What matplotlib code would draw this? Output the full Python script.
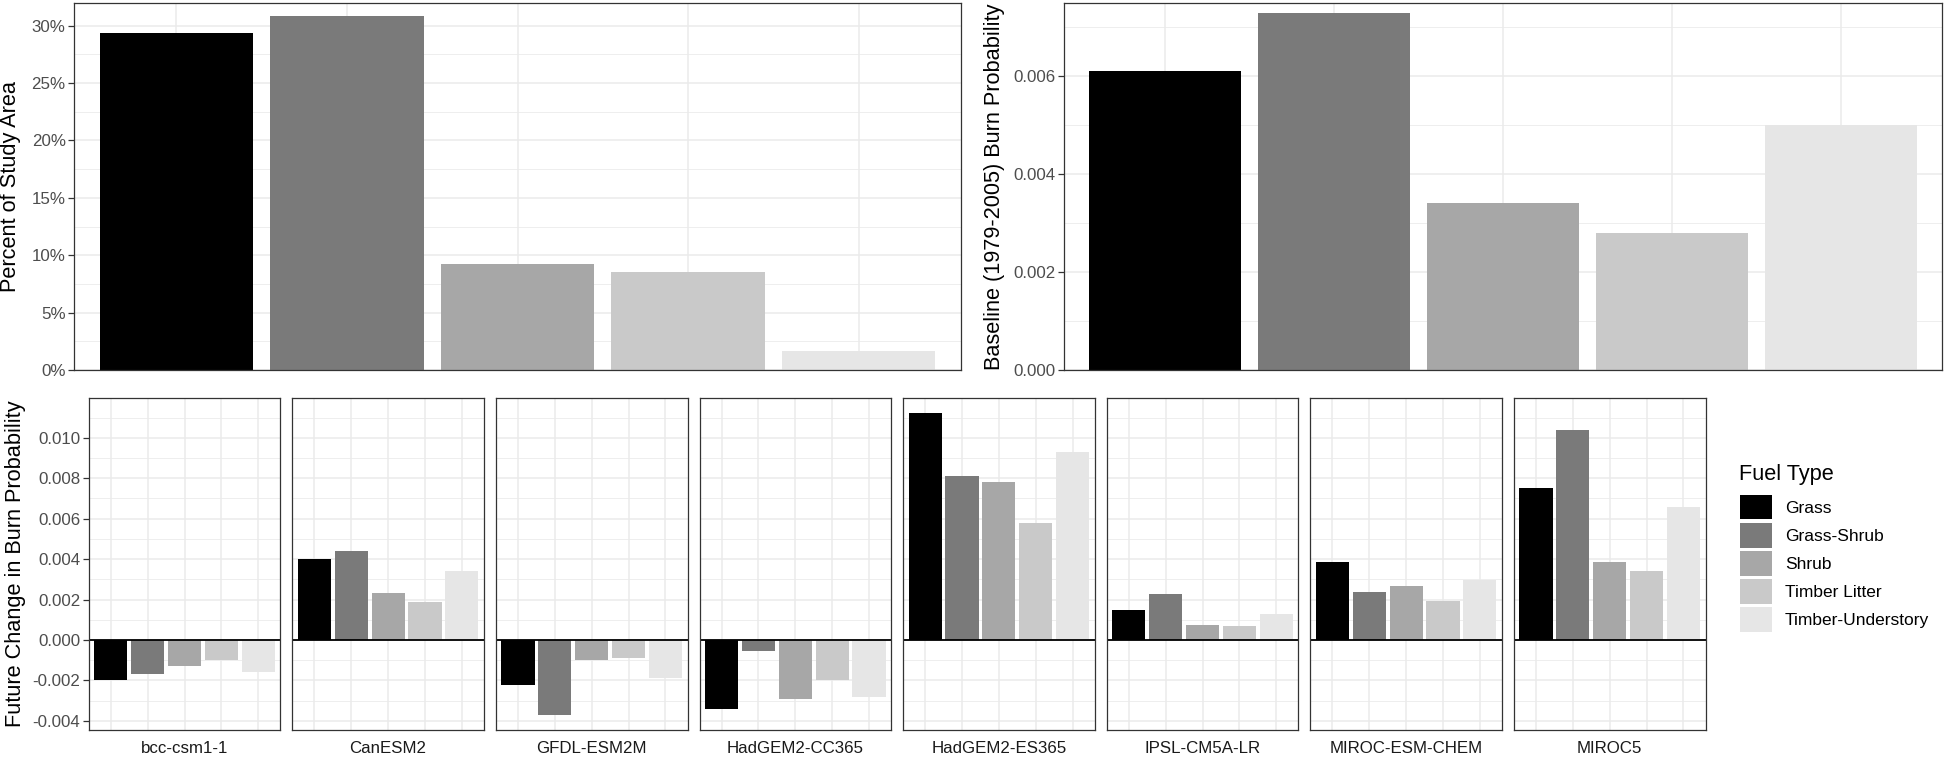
import numpy as np
import matplotlib
matplotlib.use('Agg')
import matplotlib.pyplot as plt
from matplotlib.patches import Patch
from matplotlib.ticker import MultipleLocator, FuncFormatter

# fuel types and grey fills (scale_fill_grey-like)
fuels = ['Grass', 'Grass-Shrub', 'Shrub', 'Timber Litter', 'Timber-Understory']
fills = ['#000000', '#7a7a7a', '#a7a7a7', '#c9c9c9', '#e6e6e6']

# top-left: percent of study area
pct_area = [29.4, 30.8, 9.25, 8.5, 1.65]

# top-right: baseline (1979-2005) burn probability
baseline_bp = [0.0061, 0.00729, 0.0034, 0.0028, 0.005]

# bottom: future change in burn probability, one list per GCM
gcms = ['bcc-csm1-1', 'CanESM2', 'GFDL-ESM2M', 'HadGEM2-CC365',
        'HadGEM2-ES365', 'IPSL-CM5A-LR', 'MIROC-ESM-CHEM', 'MIROC5']
chg_bcc = [-0.0020, -0.0017, -0.0013, -0.0010, -0.0016]
chg_can = [0.0040, 0.0044, 0.0023, 0.0019, 0.0034]
chg_gfdl = [-0.00224, -0.0037, -0.0010, -0.0009, -0.0019]
chg_hadcc = [-0.0034, -0.00054, -0.0029, -0.0020, -0.0028]
chg_hades = [0.0112, 0.0081, 0.0078, 0.0058, 0.0093]
chg_ipsl = [0.00147, 0.00229, 0.00074, 0.00068, 0.0013]
chg_mchem = [0.00384, 0.00237, 0.00265, 0.00195, 0.00299]
chg_miroc5 = [0.0075, 0.0104, 0.00387, 0.0034, 0.0066]
changes = [chg_bcc, chg_can, chg_gfdl, chg_hadcc, chg_hades, chg_ipsl, chg_mchem, chg_miroc5]

W, H = 1944, 758
fig = plt.figure(figsize=(W / 100, H / 100), dpi=100)
plt.rcParams['font.family'] = ['Liberation Sans', 'DejaVu Sans']

tick_fs = 12.2
title_fs = 15.7

def px_axes(x0, y0, x1, y1):
    # pixel box (y from top) -> axes
    return fig.add_axes([x0 / W, 1 - y1 / H, (x1 - x0) / W, (y1 - y0) / H])

def style(ax):
    for s in ax.spines.values():
        s.set_color('#333333')
        s.set_linewidth(0.9)
    ax.set_axisbelow(True)
    ax.grid(which='major', color='#ebebeb', linewidth=1.1)
    ax.grid(which='minor', color='#ebebeb', linewidth=0.6)
    ax.tick_params(axis='y', which='major', length=4, width=0.9, color='#333333',
                   labelsize=tick_fs, labelcolor='#4d4d4d', pad=2)
    ax.tick_params(axis='y', which='minor', length=0)
    ax.tick_params(axis='x', which='both', length=0, labelbottom=False)
    ax.set_xlim(0.4, 5.6)
    ax.set_xticks(range(1, 6))

xpos = np.arange(1, 6)

# top-left panel
ax1 = px_axes(74, 3.3, 961, 370)
ax1.bar(xpos, pct_area, width=0.9, color=fills)
ax1.set_ylim(0, 31.95)
ax1.yaxis.set_major_locator(MultipleLocator(5))
ax1.yaxis.set_minor_locator(MultipleLocator(2.5))
ax1.yaxis.set_major_formatter(FuncFormatter(lambda v, p: f'{v:.0f}%'))
style(ax1)
fig.text(11 / W, 1 - 187 / H, 'Percent of Study Area', rotation=90,
         ha='center', va='center', fontsize=title_fs)

# top-right panel
ax2 = px_axes(1064, 3.3, 1942, 370)
ax2.bar(xpos, baseline_bp, width=0.9, color=fills)
ax2.set_ylim(0, 0.007484)
ax2.yaxis.set_major_locator(MultipleLocator(0.002))
ax2.yaxis.set_minor_locator(MultipleLocator(0.001))
ax2.yaxis.set_major_formatter(FuncFormatter(lambda v, p: f'{v:.3f}'))
style(ax2)
fig.text(994 / W, 1 - 187 / H, 'Baseline (1979-2005) Burn Probability', rotation=90,
         ha='center', va='center', fontsize=title_fs)

# bottom facets
x0, pw, gap = 88.7, 191.6, 12
for i, (gcm, vals) in enumerate(zip(gcms, changes)):
    left = x0 + i * (pw + gap)
    ax = px_axes(left, 398.3, left + pw, 730)
    ax.bar(xpos, vals, width=0.9, color=fills)
    ax.axhline(0, color='black', linewidth=1.3)
    ax.set_ylim(-0.00445, 0.01195)
    ax.yaxis.set_major_locator(MultipleLocator(0.002))
    ax.yaxis.set_minor_locator(MultipleLocator(0.001))
    ax.yaxis.set_major_formatter(FuncFormatter(lambda v, p: f'{v:.3f}'))
    style(ax)
    if i > 0:
        ax.tick_params(axis='y', which='major', length=0, labelleft=False)
    ax.text(0.5, -0.055, gcm, transform=ax.transAxes, ha='center', va='center',
            fontsize=tick_fs, color='#1a1a1a')

fig.text(16 / W, 1 - 564 / H, 'Future Change in Burn Probability', rotation=90,
         ha='center', va='center', fontsize=title_fs)

# legend (title drawn separately for spacing)
fig.text(1739 / W, 1 - 474 / H, 'Fuel Type', ha='left', va='center', fontsize=title_fs)
handles = [Patch(facecolor=c, edgecolor='none', label=f) for f, c in zip(fuels, fills)]
leg = fig.legend(handles=handles, loc='upper left',
                 bbox_to_anchor=(1740 / W, 1 - 495 / H), frameon=False,
                 fontsize=12.5, handlelength=1.84,
                 handleheight=1.79, labelspacing=0.21, handletextpad=0.75,
                 borderpad=0, borderaxespad=0)

fig.savefig('out.png', dpi=100)
